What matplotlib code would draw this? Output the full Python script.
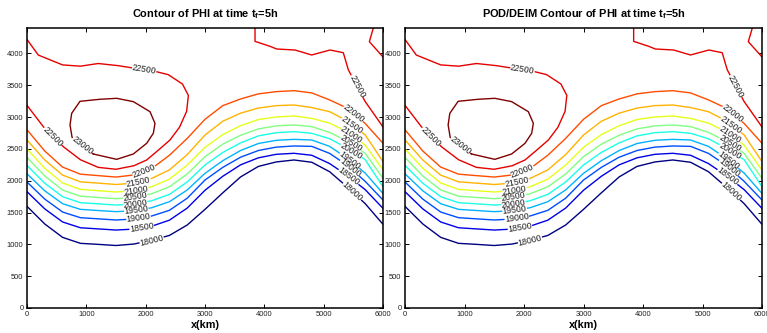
import numpy as np
import matplotlib
matplotlib.use("Agg")
import matplotlib.pyplot as plt

plt.rcParams['font.family'] = ['Liberation Sans', 'DejaVu Sans']
plt.rcParams['mathtext.fontset'] = 'custom'
plt.rcParams['mathtext.rm'] = 'Liberation Sans'
plt.rcParams['mathtext.it'] = 'Liberation Sans:italic'
plt.rcParams['mathtext.bf'] = 'Liberation Sans:bold'

# ---------------- data ----------------
titles = [r'Contour of PHI at time t$_\mathbf{f}$=5h',
          r'POD/DEIM Contour of PHI at time t$_\mathbf{f}$=5h']
x_label = 'x(km)'
x_ticks = [0, 1000, 2000, 3000, 4000, 5000, 6000]
y_ticks = [0, 500, 1000, 1500, 2000, 2500, 3000, 3500, 4000]
levels = [18000, 18500, 19000, 19500, 20000, 20500, 21000, 21500, 22000, 22500, 23000]

# wave-shaped contours: y (km) at x columns
x_wave = [0, 300, 600, 900, 1200, 1500, 1800, 2100, 2400, 2700, 3000,
          3300, 3600, 3900, 4200, 4500, 4800, 5100, 5400, 5700, 6000]
y_18000 = [1597, 1320, 1110, 1016, 1000, 982, 1005, 1065, 1140, 1304, 1550,
           1810, 2060, 2225, 2295, 2326, 2290, 2142, 1900, 1640, 1315]
y_18500 = [1828, 1557, 1352, 1261, 1243, 1225, 1240, 1285, 1380, 1570, 1850,
           2070, 2250, 2360, 2415, 2431, 2400, 2270, 2080, 1860, 1566]
y_19000 = [1980, 1711, 1508, 1419, 1401, 1383, 1398, 1445, 1535, 1725, 2011,
           2210, 2370, 2475, 2528, 2546, 2540, 2430, 2240, 1990, 1697]
y_19500 = [2108, 1841, 1639, 1550, 1532, 1514, 1528, 1575, 1670, 1855, 2116,
           2315, 2475, 2585, 2635, 2650, 2640, 2540, 2350, 2120, 1800]
y_20000 = [2240, 1960, 1749, 1655, 1637, 1618, 1633, 1685, 1785, 1980, 2247,
           2445, 2595, 2705, 2755, 2771, 2745, 2660, 2510, 2330, 1906]
y_20500 = [2365, 2074, 1854, 1757, 1737, 1718, 1737, 1795, 1905, 2105, 2378,
           2575, 2715, 2815, 2862, 2876, 2850, 2760, 2620, 2430, 2038]
y_21000 = [2500, 2195, 1965, 1864, 1843, 1823, 1843, 1905, 2025, 2245, 2525,
           2725, 2865, 2962, 3002, 3017, 2980, 2905, 2770, 2560, 2169]
y_21500 = [2640, 2325, 2088, 1983, 1962, 1941, 1962, 2035, 2170, 2410, 2718,
           2935, 3062, 3142, 3180, 3190, 3150, 3085, 2940, 2720, 2300]
y_22000 = [2800, 2466, 2214, 2103, 2080, 2058, 2090, 2190, 2400, 2665, 2965,
           3180, 3285, 3365, 3400, 3415, 3380, 3270, 3140, 2900, 2588]

# 22500 contour around the high (enters and leaves at the left edge)
x_22500_a = [0, 190, 600, 900, 1200, 1540, 1790, 2157, 2380, 2620, 2720, 2690,
             2570, 2410, 2200, 2017, 1800, 1500, 1200, 900, 612, 275, 0]
y_22500_a = [4220, 3975, 3820, 3800, 3842, 3808, 3771, 3719, 3667, 3520, 3340, 3090,
             2840, 2640, 2470, 2326, 2235, 2180, 2210, 2330, 2535, 2849, 3185]
# 22500 contour in the upper right
x_22500_b = [3843, 3843, 4096, 4208, 4517, 4798, 5107, 5331, 5415, 5697, 6000]
y_22500_b = [4400, 4190, 4112, 4070, 4054, 3976, 4054, 4012, 3745, 3248, 2845]
# 22500 contour in the top-right corner
x_22500_c = [5837, 5770, 6000]
y_22500_c = [4400, 4185, 3945]
# 23000 closed contour (the high)
x_23000 = [1118, 1511, 1792, 2017, 2129, 2157, 2073, 1792, 1511, 1230, 893, 753, 725, 760, 1118]
y_23000 = [2420, 2336, 2420, 2588, 2745, 2902, 3085, 3243, 3295, 3280, 3248, 3059, 2876, 2680, 2420]


# ---------------- drawing ----------------
def matlab_jet(t):
    """MATLAB-style jet colour for t in [0, 1]."""
    def ramp(v):
        return float(np.clip(v, 0, 1))
    r = ramp(min(4 * t - 1.5, -4 * t + 4.5))
    g = ramp(min(4 * t - 0.5, -4 * t + 3.5))
    b = ramp(min(4 * t + 0.5, -4 * t + 2.5))
    return (r, g, b)


fig = plt.figure(figsize=(7.67, 3.33), dpi=100)
renderer = fig.canvas.get_renderer()
colors = {lev: matlab_jet(i / (len(levels) - 1)) for i, lev in enumerate(levels)}

lines = [
    (x_wave, y_18000, 18000, [(2100, 1070), (5480, 1830)]),
    (x_wave, y_18500, 18500, [(1930, 1270), (5420, 2060)]),
    (x_wave, y_19000, 19000, [(1880, 1410), (5440, 2200)]),
    (x_wave, y_19500, 19500, [(1840, 1550), (5450, 2330)]),
    (x_wave, y_20000, 20000, [(1815, 1680), (5450, 2450)]),
    (x_wave, y_20500, 20500, [(1815, 1790), (5460, 2580)]),
    (x_wave, y_21000, 21000, [(1830, 1900), (5470, 2720)]),
    (x_wave, y_21500, 21500, [(1870, 2020), (5480, 2880)]),
    (x_wave, y_22000, 22000, [(1965, 2170), (5490, 3040)]),
    (x_22500_a, y_22500_a, 22500, [(1975, 3745), (430, 2690)]),
    (x_22500_b, y_22500_b, 22500, [(5550, 3480)]),
    (x_22500_c, y_22500_c, 22500, []),
    (x_23000, y_23000, 23000, [(930, 2550)]),
]


def draw_contour_line(ax, xs, ys, color, text, label_xy):
    pts = ax.transData.transform(np.column_stack([xs, ys]).astype(float))
    d = np.diff(pts, axis=0)
    L = np.hypot(d[:, 0], d[:, 1])
    s = np.concatenate([[0.0], np.cumsum(L)])

    def at(v):
        v = min(max(v, 0.0), s[-1])
        return np.array([np.interp(v, s, pts[:, 0]), np.interp(v, s, pts[:, 1])])

    gaps = []
    for lx, ly in label_xy:
        tgt = ax.transData.transform((lx, ly))
        best_d, best_s = np.inf, 0.0
        for i in range(len(d)):
            if L[i] == 0:
                continue
            t = np.clip(np.dot(tgt - pts[i], d[i]) / L[i] ** 2, 0, 1)
            q = pts[i] + t * d[i]
            dist = np.hypot(*(q - tgt))
            if dist < best_d:
                best_d, best_s = dist, s[i] + t * L[i]
        txt = ax.text(lx, ly, text, fontsize=6.3, color='#222222', ha='center',
                      va='center', rotation_mode='anchor', zorder=3)
        w = txt.get_window_extent(renderer).width / 2 + 0.8
        pa, pb, pc = at(best_s - w), at(best_s + w), at(best_s)
        ang = np.degrees(np.arctan2(pb[1] - pa[1], pb[0] - pa[0]))
        if ang > 90:
            ang -= 180
        elif ang < -90:
            ang += 180
        txt.set_position(ax.transData.inverted().transform(pc))
        txt.set_rotation(ang)
        gaps.append((best_s - w, best_s + w))
    gaps.sort()
    keep, start = [], 0.0
    for g0, g1 in gaps:
        keep.append((start, g0))
        start = g1
    keep.append((start, s[-1]))
    for a, b in keep:
        if b <= a:
            continue
        inner = (s > a) & (s < b)
        seg = np.vstack([at(a)[None], pts[inner], at(b)[None]])
        dat = ax.transData.inverted().transform(seg)
        ax.plot(dat[:, 0], dat[:, 1], color=color, lw=1.0, zorder=2)


rects = [[27 / 767, 25 / 333, 356 / 767, 280 / 333],
         [405 / 767, 25 / 333, 357 / 767, 280 / 333]]

for rect, title in zip(rects, titles):
    ax = fig.add_axes(rect)
    ax.set_xlim(0, 6000)
    ax.set_ylim(0, 4400)
    ax.set_xticks(x_ticks)
    ax.set_yticks(y_ticks)
    ax.tick_params(direction='in', top=True, right=True, length=3, width=0.7,
                   labelsize=5.4, pad=2.5, labelcolor='#222222')
    for sp in ax.spines.values():
        sp.set_linewidth(1.1)
    ax.set_title(title, fontsize=7.9, fontweight='bold', pad=7.5)
    ax.set_xlabel(x_label, fontsize=7.8, fontweight='bold', labelpad=1)
    for xs, ys, lev, lab in lines:
        draw_contour_line(ax, xs, ys, colors[lev], str(lev), lab)

fig.savefig('out.png', dpi=100)
